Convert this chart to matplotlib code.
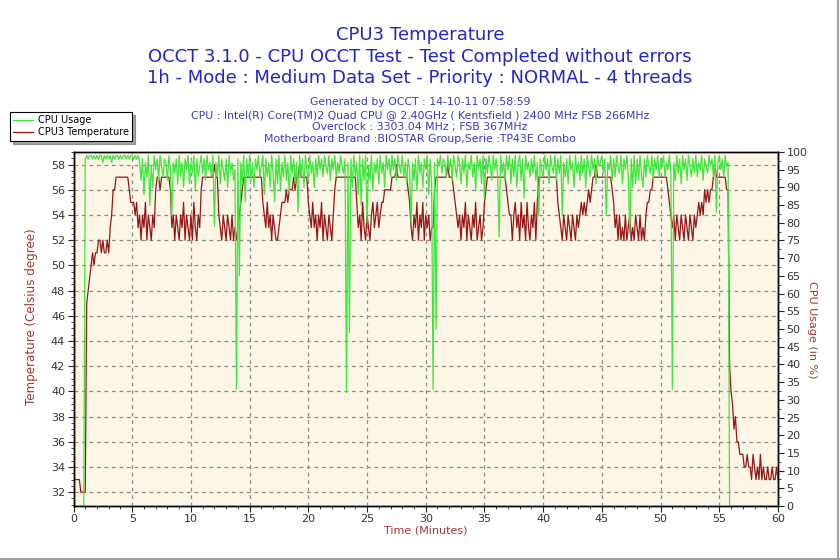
import numpy as np
import matplotlib
matplotlib.use('Agg')
import matplotlib.pyplot as plt
from matplotlib.ticker import MultipleLocator
from matplotlib.lines import Line2D

plt.rcParams['font.family'] = ['DejaVu Sans']

# samples every 7.5 s (8 per minute), one row per minute
SAMPLES_PER_MIN = 8

# CPU3 temperature (deg C)
temp_c = [
    33, 33, 33, 33, 33, 32, 32, 32,
    32, 47, 48, 49, 50, 51, 50, 51,
    51, 52, 52, 51, 52, 51, 51, 52,
    51, 53, 54, 56, 56, 57, 57, 57,
    57, 57, 57, 57, 57, 57, 56, 55,
    55, 55, 54, 55, 53, 54, 52, 54,
    53, 55, 52, 54, 53, 52, 54, 53,
    56, 57, 57, 56, 57, 57, 57, 57,
    57, 57, 56, 53, 54, 52, 54, 53,
    52, 54, 53, 55, 52, 54, 53, 52,
    54, 52, 55, 53, 52, 54, 53, 56,
    57, 57, 57, 57, 57, 57, 57, 57,
    58, 57, 57, 54, 53, 52, 54, 53,
    52, 54, 53, 52, 54, 52, 53, 52,
    53, 54, 55, 56, 57, 57, 57, 57,
    57, 57, 57, 57, 57, 57, 57, 57,
    57, 55, 54, 53, 55, 53, 54, 52,
    54, 53, 52, 52, 53, 54, 55, 55,
    55, 56, 55, 56, 56, 56, 57, 56,
    57, 57, 58, 57, 57, 57, 57, 57,
    55, 54, 53, 55, 53, 54, 52, 54,
    53, 55, 52, 54, 53, 52, 54, 53,
    52, 54, 56, 57, 57, 57, 57, 57,
    57, 57, 57, 57, 57, 57, 57, 57,
    57, 55, 53, 54, 52, 55, 53, 52,
    54, 53, 52, 54, 55, 53, 54, 55,
    53, 54, 55, 55, 56, 56, 56, 56,
    56, 57, 57, 57, 58, 57, 57, 57,
    57, 57, 57, 57, 56, 55, 53, 52,
    54, 53, 55, 52, 54, 53, 55, 52,
    54, 53, 54, 52, 53, 53, 56, 57,
    57, 57, 57, 57, 57, 57, 57, 58,
    57, 57, 57, 56, 55, 54, 53, 54,
    52, 54, 53, 55, 52, 54, 53, 52,
    54, 53, 55, 52, 53, 54, 52, 53,
    55, 56, 57, 57, 57, 57, 57, 57,
    57, 57, 57, 57, 57, 57, 57, 56,
    55, 54, 54, 52, 54, 55, 53, 54,
    52, 55, 53, 54, 52, 55, 53, 52,
    54, 53, 55, 52, 55, 57, 57, 57,
    57, 57, 57, 57, 57, 57, 57, 57,
    57, 57, 55, 54, 53, 52, 54, 53,
    52, 54, 53, 52, 54, 53, 52, 54,
    53, 54, 55, 54, 55, 54, 55, 56,
    55, 56, 57, 57, 58, 57, 57, 57,
    57, 57, 57, 57, 57, 57, 57, 56,
    55, 53, 54, 52, 54, 52, 53, 52,
    54, 52, 53, 54, 52, 53, 52, 54,
    53, 52, 54, 52, 53, 52, 54, 55,
    55, 56, 56, 57, 57, 57, 57, 57,
    57, 57, 57, 57, 57, 56, 55, 54,
    53, 54, 52, 54, 53, 52, 54, 53,
    52, 54, 53, 52, 54, 53, 52, 54,
    53, 54, 55, 54, 55, 54, 56, 55,
    56, 55, 56, 56, 57, 58, 57, 57,
    57, 57, 57, 57, 57, 56, 56, 42,
    40, 39, 37, 38, 36, 36, 35, 35,
    35, 34, 34, 35, 34, 34, 33, 35,
    34, 33, 34, 33, 35, 33, 34, 33,
    33, 34, 33, 33, 34, 33, 33, 34,
    33,
]

# CPU usage (%)
cpu_pct = [
    0, 0, 0, 0, 0, 0, 0, 0,
    98, 99, 98, 99, 99, 98, 99, 98,
    99, 98, 99, 99, 97, 99, 98, 99,
    98, 99, 97, 99, 98, 99, 99, 98,
    99, 98, 99, 99, 98, 99, 98, 99,
    99, 98, 99, 98, 99, 97, 92, 98,
    88, 97, 93, 99, 85, 96, 90, 99,
    95, 98, 92, 99, 96, 93, 98, 97,
    92, 99, 95, 82, 97, 94, 98, 91,
    99, 93, 97, 90, 98, 95, 99, 91,
    97, 94, 99, 89, 98, 93, 96, 99,
    94, 98, 92, 99, 95, 97, 93, 99,
    79, 97, 93, 99, 91, 98, 95, 92,
    98, 90, 99, 94, 97, 92, 95, 33,
    98, 65, 97, 91, 99, 86, 98, 93,
    99, 92, 97, 90, 98, 95, 99, 93,
    96, 99, 88, 98, 93, 97, 90, 99,
    94, 86, 98, 91, 99, 89, 97, 93,
    99, 92, 97, 88, 99, 94, 98, 91,
    97, 83, 99, 93, 98, 90, 99, 95,
    92, 99, 94, 97, 90, 98, 93, 99,
    95, 98, 93, 99, 96, 94, 99, 92,
    98, 95, 99, 93, 97, 94, 99, 96,
    94, 98, 32, 97, 49, 98, 90, 99,
    93, 97, 88, 99, 85, 98, 92, 99,
    80, 96, 92, 99, 89, 97, 94, 98,
    91, 99, 94, 97, 90, 99, 95, 98,
    93, 99, 95, 98, 92, 99, 96, 94,
    99, 93, 97, 91, 98, 95, 80, 97,
    92, 98, 89, 99, 94, 97, 90, 98,
    95, 99, 88, 98, 91, 33, 97, 50,
    98, 96, 99, 94, 98, 97, 93, 99,
    95, 98, 92, 99, 96, 93, 99, 97,
    91, 98, 94, 99, 90, 97, 95, 99,
    93, 97, 89, 99, 95, 98, 91, 99,
    87, 98, 94, 99, 96, 92, 99, 95,
    98, 93, 76, 99, 94, 97, 92, 99,
    95, 99, 91, 98, 93, 99, 90, 97,
    99, 92, 98, 87, 99, 95, 97, 93,
    98, 94, 99, 92, 97, 82, 98, 95,
    93, 99, 95, 98, 91, 99, 96, 94,
    99, 92, 98, 94, 99, 82, 97, 93,
    98, 91, 99, 95, 97, 90, 99, 94,
    97, 92, 99, 94, 98, 90, 99, 96,
    93, 99, 95, 98, 91, 99, 96, 97,
    99, 94, 98, 82, 97, 95, 99, 92,
    98, 93, 99, 96, 94, 99, 91, 98,
    95, 99, 93, 77, 98, 90, 99, 91,
    98, 92, 99, 94, 90, 98, 93, 99,
    96, 94, 99, 92, 98, 95, 99, 93,
    98, 96, 99, 93, 97, 95, 99, 94,
    33, 97, 92, 99, 94, 98, 91, 99,
    95, 98, 92, 99, 96, 93, 98, 94,
    99, 93, 97, 95, 99, 92, 98, 96,
    94, 99, 96, 98, 93, 99, 83, 97,
    99, 95, 98, 93, 99, 96, 97, 0,
    0, 0, 0, 0, 0, 0, 0, 0,
    0, 0, 0, 0, 0, 0, 0, 0,
    0, 0, 0, 0, 0, 0, 0, 0,
    0, 0, 0, 0, 0, 0, 0, 0,
    0,
]

title_lines = [
    'CPU3 Temperature',
    'OCCT 3.1.0 - CPU OCCT Test - Test Completed without errors',
    '1h - Mode : Medium Data Set - Priority : NORMAL - 4 threads',
]
info_lines = [
    'Generated by OCCT : 14-10-11 07:58:59',
    'CPU : Intel(R) Core(TM)2 Quad CPU @ 2.40GHz ( Kentsfield ) 2400 MHz FSB 266MHz',
    'Overclock : 3303.04 MHz ; FSB 367MHz',
    'Motherboard Brand :BIOSTAR Group,Serie :TP43E Combo',
]

t_temp = np.arange(len(temp_c)) / SAMPLES_PER_MIN
t_cpu = np.arange(len(cpu_pct)) / SAMPLES_PER_MIN

GREEN = '#3ee63e'
RED = '#961616'
LABEL_RED = '#a03838'
BLUE = '#2424c8'
TICK = '#333333'

fig = plt.figure(figsize=(8.4, 5.6), dpi=100)
fig.patch.set_facecolor('white')

ax = fig.add_axes([0.0875, 0.0964, 0.8387, 0.6322])
ax.set_facecolor('#fdf6e6')
ax2 = ax.twinx()
ax2.patch.set_visible(False)

ax.plot(t_temp, temp_c, color=RED, lw=0.9, zorder=3)
ax2.plot(t_cpu, cpu_pct, color=GREEN, lw=0.9, zorder=2)

ax.set_xlim(0, 60)
ax.set_ylim(30.9, 59.0)
ax2.set_ylim(0, 100)

ax.xaxis.set_major_locator(MultipleLocator(5))
ax.xaxis.set_minor_locator(MultipleLocator(1))
ax.yaxis.set_major_locator(MultipleLocator(2))
ax.yaxis.set_minor_locator(MultipleLocator(0.5))
ax2.yaxis.set_major_locator(MultipleLocator(5))
ax2.yaxis.set_minor_locator(MultipleLocator(2.5))

for a in (ax, ax2):
    a.tick_params(which='major', length=4, width=0.8, color='#222222',
                  labelsize=8, labelcolor=TICK, pad=2)
    a.tick_params(which='minor', length=2, width=0.6, color='#222222')
    for s in a.spines.values():
        s.set_color('black')
        s.set_linewidth(1.0)

ax.grid(True, which='major', color='#8c8c8c', linestyle=(0, (3, 3)), linewidth=0.9)
ax.set_axisbelow(True)

# axis titles
fig.text(0.038, 0.435, 'Temperature (Celsius degree)', rotation=90, color=LABEL_RED,
         fontsize=8.6, ha='center', va='center')
fig.text(0.967, 0.412, 'CPU Usage (in %)', rotation=270, color=LABEL_RED,
         fontsize=8, ha='center', va='center')
fig.text(0.507, 0.052, 'Time (Minutes)', color=LABEL_RED, fontsize=8,
         ha='center', va='center')

# header
for y, txt in zip([0.9375, 0.898, 0.861], title_lines):
    fig.text(0.5, y, txt, color=BLUE, fontsize=13, ha='center', va='center')
for y, txt in zip([0.818, 0.795, 0.773, 0.752], info_lines):
    fig.text(0.5, y, txt, color='#3838c8', fontsize=7.8, ha='center', va='center')

handles = [Line2D([], [], color=GREEN, lw=0.9), Line2D([], [], color=RED, lw=0.9)]
leg = fig.legend(handles, ['CPU Usage', 'CPU3 Temperature'], loc='upper left',
                 bbox_to_anchor=(0.012, 0.80), fontsize=7, frameon=True,
                 fancybox=False, shadow=True, edgecolor='black',
                 borderpad=0.35, handlelength=2.0, handletextpad=0.5,
                 labelspacing=0.2, borderaxespad=0)
leg.get_frame().set_linewidth(0.8)

# thin grey frame on the right and bottom of the image
fig.add_artist(Line2D([0, 1], [0.002, 0.002], transform=fig.transFigure, color='#a0a0a0', lw=1.5))
fig.add_artist(Line2D([0.998, 0.998], [0, 1], transform=fig.transFigure, color='#a0a0a0', lw=1.5))

fig.savefig('out.png', dpi=100)
